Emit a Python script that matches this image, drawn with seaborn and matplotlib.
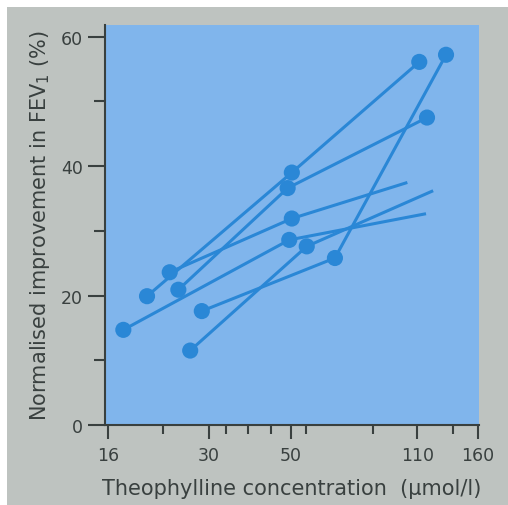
import numpy as np
import pandas as pd
import matplotlib
matplotlib.use('Agg')
import matplotlib.pyplot as plt
from matplotlib.patches import Rectangle
from matplotlib.ticker import NullFormatter
import seaborn as sns

# one polyline per patient: three concentrations, the last one not always marked
patient = [1, 1, 1, 2, 2, 2, 3, 3, 3, 4, 4, 4, 5, 5, 5, 6, 6, 6]
conc = [17.6, 49.5, 115.0,
        26.7, 55.2, 120.3,
        23.5, 50.3, 102.4,
        28.7, 65.8, 131.5,
        20.4, 50.3, 111.3,
        24.8, 49.0, 116.8]
fev = [14.7, 28.6, 32.6,
       11.5, 27.6, 36.1,
       23.6, 31.9, 37.4,
       17.6, 25.8, 57.2,
       19.9, 39.0, 56.1,
       20.9, 36.6, 47.5]
marked = [True, True, False,
          True, True, False,
          True, True, False,
          True, True, True,
          True, True, True,
          True, True, True]

x_ticks = [16, 30, 50, 110, 160]
x_minor = [22.5, 33.4, 38.3, 44.2, 54.9, 83.4, 137]
y_ticks = [0, 20, 40, 60]
y_minor = [10, 30, 50]

df = pd.DataFrame({'patient': patient, 'conc': conc, 'fev': fev, 'marked': marked})

grey = '#bec3c0'
blue = '#80b5ec'
line_c = '#2a87d6'
ink = '#39403f'

fig = plt.figure(figsize=(5.08, 5.06), dpi=100)
fig.patch.set_facecolor('white')
fig.add_artist(Rectangle((7 / 508, 0), 1, 1 - 8 / 506, transform=fig.transFigure,
                         facecolor=grey, edgecolor='none', zorder=-10))

ax = fig.add_axes([105 / 508, 1 - 426 / 506, 374 / 508, 400 / 506])
ax.set_facecolor(blue)

# lines first, then the measured points on top
sns.lineplot(data=df, x='conc', y='fev', units='patient', estimator=None, sort=False,
             color=line_c, lw=2.2, ax=ax, legend=False)
sns.scatterplot(data=df[df.marked], x='conc', y='fev', color=line_c, s=135,
                edgecolor='none', ax=ax, legend=False, zorder=3)

ax.set_xscale('log')
ax.set_xlim(15.7, 161.5)
ax.set_ylim(0, 61.8)

ax.set_xticks(x_ticks)
ax.set_xticklabels([str(t) for t in x_ticks])
ax.set_xticks(x_minor, minor=True)
ax.xaxis.set_minor_formatter(NullFormatter())
ax.set_yticks(y_ticks)
ax.set_yticks(y_minor, minor=True)

for s in ['top', 'right']:
    ax.spines[s].set_visible(False)
for s in ['left', 'bottom']:
    ax.spines[s].set_color(ink)
    ax.spines[s].set_linewidth(1.5)

ax.tick_params(axis='x', which='major', length=10, width=1.5, color=ink,
               labelsize=12.5, labelcolor=ink, pad=5)
ax.tick_params(axis='x', which='minor', length=6.5, width=1.5, color=ink)
ax.tick_params(axis='y', which='major', length=12, width=1.5, color=ink,
               labelsize=12.5, labelcolor=ink, pad=4)
ax.tick_params(axis='y', which='minor', length=8, width=1.5, color=ink)

ax.set_xlabel('Theophylline concentration  (\u03bcmol/l)', fontsize=15, color=ink, labelpad=10)
ax.set_ylabel('Normalised improvement in FEV$_1$ (%)', fontsize=15, color=ink, labelpad=6)

fig.savefig('out.png', dpi=100, facecolor=fig.get_facecolor())
